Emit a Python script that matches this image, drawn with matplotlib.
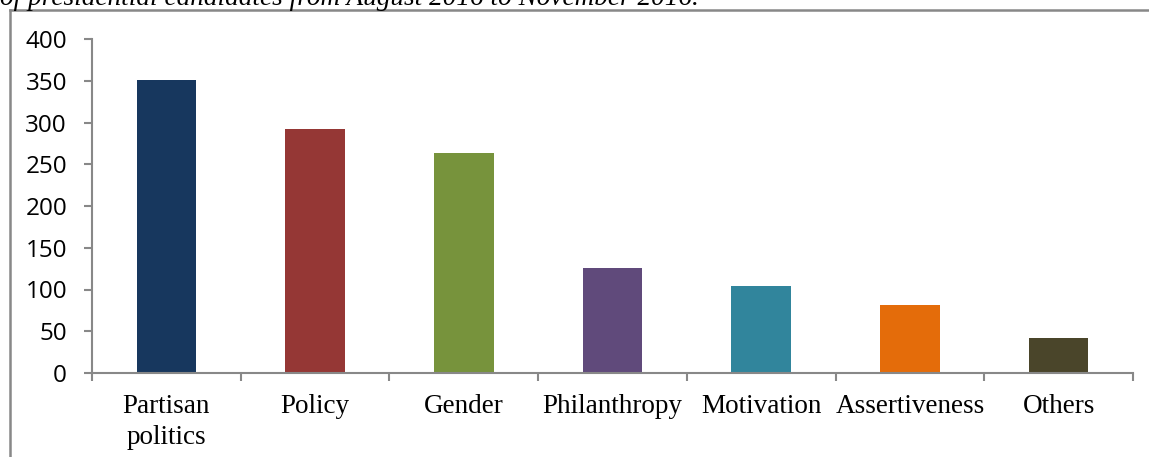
import matplotlib

matplotlib.use("Agg")
import matplotlib.pyplot as plt
from matplotlib.lines import Line2D
from matplotlib.ticker import FixedLocator, NullFormatter

categories = ["Partisan\npolitics", "Policy", "Gender", "Philanthropy",
              "Motivation", "Assertiveness", "Others"]
counts = [351, 292, 263, 126, 104, 81, 42]
colors = ["#17375E", "#953735", "#77933C", "#604A7B",
          "#31859C", "#E46C0A", "#4A452A"]
yticks = [0, 50, 100, 150, 200, 250, 300, 350, 400]
caption = "of presidential candidates from August 2016 to November 2016."

W, H = 1149, 457
axis_grey = "#888888"

fig = plt.figure(figsize=(W / 100, H / 100), dpi=100)
ax = fig.add_axes([92 / W, 1 - 373 / H, (1133 - 92) / W, (373 - 39) / H])

x = list(range(len(categories)))
ax.bar(x, counts, width=0.4, color=colors, zorder=2)

ax.set_xlim(-0.5, len(categories) - 0.5)
ax.set_ylim(0, 400)
ax.set_yticks(yticks)
ax.set_yticklabels([str(v) for v in yticks], family="Open Sans", fontsize=17.5)

# category labels centred under bars, tick marks on the boundaries
ax.set_xticks(x)
ax.set_xticklabels(categories, family="Liberation Serif", fontsize=19.5,
                   linespacing=1.35)
ax.tick_params(axis="x", which="major", length=0, pad=15)
ax.xaxis.set_minor_locator(FixedLocator([i - 0.5 for i in range(len(categories) + 1)]))
ax.xaxis.set_minor_formatter(NullFormatter())
ax.tick_params(axis="x", which="minor", length=6, width=1.5, color=axis_grey,
               direction="out")
ax.tick_params(axis="y", length=6, width=1.5, color=axis_grey, pad=12)

for side in ("top", "right"):
    ax.spines[side].set_visible(False)
for side in ("left", "bottom"):
    ax.spines[side].set_color(axis_grey)
    ax.spines[side].set_linewidth(1.5)

# border of the cropped figure box
fig.add_artist(Line2D([10 / W, 10 / W], [0, 1 - 10 / H], color=axis_grey,
                      lw=1.8, transform=fig.transFigure))
fig.add_artist(Line2D([10 / W, 1], [1 - 10 / H, 1 - 10 / H], color=axis_grey,
                      lw=1.8, transform=fig.transFigure))

fig.text(0, 1 - 5 / H, caption, family="Liberation Serif", style="italic",
         fontsize=19.6, va="baseline", ha="left")

fig.savefig("out.png", dpi=100)
plt.close(fig)
